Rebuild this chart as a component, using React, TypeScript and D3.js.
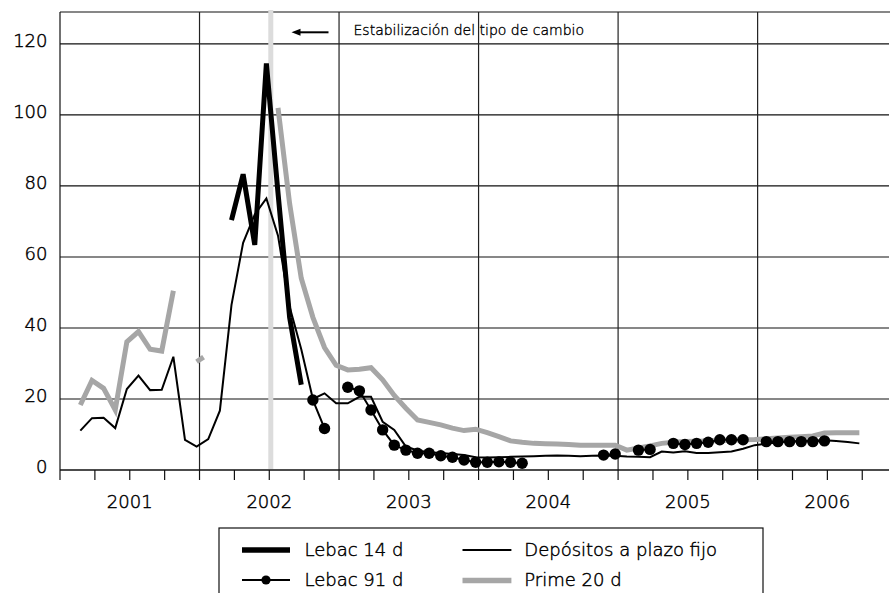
import React from "react";
import * as d3 from "d3";

// Month index: 0 = July 2000 (left edge of plot)
const YEAR_LABELS = ["2001", "2002", "2003", "2004", "2005", "2006"];
const YEAR_MONTHS = [6, 18, 30, 42, 54, 66];
const GRID_MONTHS = [12, 24, 36, 48, 60];
const Y_TICKS = [0, 20, 40, 60, 80, 100, 120];

// Depósitos a plazo fijo, monthly from month 2 (Sep 2000)
const depositosStart = 2;
const depositos = [
  11.1, 14.6, 14.7, 11.8, 22.8, 26.6, 22.5, 22.6, 31.9, 8.5,
  6.6, 8.7, 16.7, 46.5, 64, 72, 76.5, 66, 46, 34,
  20, 21.6, 18.8, 18.8, 20.6, 20.6, 13.6, 11.3, 6.6, 5.5,
  5.0, 4.8, 4.5, 4.2, 3.6, 3.5, 3.6, 3.7, 3.8, 3.9,
  4.0, 4.1, 4.0, 3.9, 4.0, 4.1, 4.0, 3.8, 3.7, 3.6,
  5.2, 4.9, 5.3, 4.8, 4.8, 5.0, 5.2, 6.0, 7.0, 7.4,
  7.8, 8.0, 8.2, 8.3, 8.4, 8.2, 7.9, 7.5,
];

// Lebac 14 d, monthly from month 15 (Oct 2001)
const lebac14Start = 15;
const lebac14 = [70.4, 83.3, 63.4, 114.5, 78, 43, 24];

// Lebac 91 d, monthly from month 22 (May 2002); null = no data
const lebac91Start = 22;
const lebac91: (number | null)[] = [
  19.7, 11.7, null, 23.3, 22.3, 16.9, 11.3, 7.0, 5.6, 4.7,
  4.7, 4.0, 3.6, 2.8, 2.2, 2.2, 2.3, 2.2, 1.9, null,
  null, null, null, null, null, 4.2, 4.5, null, 5.6, 5.8,
  null, 7.5, 7.2, 7.5, 7.8, 8.5, 8.5, 8.5, null, 8.0,
  8.0, 8.0, 8.0, 8.0, 8.2,
];

// Prime 20 d
const primeA = [18.3, 25.2, 23, 16.9, 36.1, 39, 34, 33.5, 50.5];
const primeAStart = 2;
const primeBMonths = [12, 12.6];
const primeB = [30.5, 31.8];
const primeCStart = 19;
const primeC = [
  102, 75, 54, 43, 34.5, 29.5, 28.2, 28.4, 28.8, 25.4,
  21, 17.4, 14.1, 13.4, 12.7, 11.8, 11.1, 11.5, 10.5, 9.4,
  8.2, 7.8, 7.5, 7.4, 7.3, 7.2, 7.0, 7.0, 7.0, 7.0,
  5.6, 6.2, 6.8, 7.5, 7.8, 8.0, 8.1, 8.2, 8.3, 8.4,
  8.5, 8.6, 8.8, 9.0, 9.2, 9.4, 9.6, 10.4, 10.5, 10.5, 10.5,
];

const EVENT_MONTH = 18.13;
const EVENT_LABEL = "Estabilización del tipo de cambio";

type Pt = { m: number; v: number | null };
const seq = (start: number, vals: (number | null)[]): Pt[] =>
  vals.map((v, i) => ({ m: start + i, v }));

const FONT = "'DejaVu Sans', sans-serif";
const POINT_SHIFT = -0.25;

export default function App() {
  const W = 890;
  const H = 593;
  const x = d3.scaleLinear().domain([0, 71.3]).range([60, 889]);
  const y = d3.scaleLinear().domain([0, 129]).range([470, 12]);

  const line = d3
    .line<Pt>()
    .defined((d) => d.v !== null)
    .x((d) => x(d.m + POINT_SHIFT))
    .y((d) => y(d.v as number));

  const dep = seq(depositosStart, depositos);
  const l14 = seq(lebac14Start, lebac14);
  const l91 = seq(lebac91Start, lebac91);
  const pA = seq(primeAStart, primeA);
  const pB = primeBMonths.map((m, i) => ({ m, v: primeB[i] }));
  const pC = seq(primeCStart, primeC);

  const tickMonths = d3.range(0, 72, 3);
  const x0 = x(0);
  const x1 = x(71.3);
  const txt = { fill: "#000", stroke: "#000", strokeWidth: 0.45 };
  const txtSmall = { fill: "#000", stroke: "#000", strokeWidth: 0.35 };

  return (
    <svg
      width={W}
      height={H}
      style={{ position: "absolute", left: 0, top: 0, background: "#fff" }}
      fontFamily={FONT}
      fontWeight={300}
    >
      <rect x={0} y={0} width={W} height={H} fill="#fff" />
      {/* horizontal grid */}
      {Y_TICKS.filter((t) => t > 0).map((t) => (
        <line key={t} x1={x0} x2={x1} y1={y(t)} y2={y(t)} stroke="#111" strokeWidth={1.2} />
      ))}
      <line x1={x0} x2={x1 + 1} y1={12} y2={12} stroke="#111" strokeWidth={1.2} />
      {/* vertical grid */}
      {GRID_MONTHS.map((m) => (
        <line key={m} x1={x(m)} x2={x(m)} y1={12} y2={y(0)} stroke="#222" strokeWidth={1.2} />
      ))}
      <line x1={x0} x2={x0} y1={12} y2={y(0)} stroke="#111" strokeWidth={1.2} />

      {/* event line */}
      <line
        x1={x(EVENT_MONTH)}
        x2={x(EVENT_MONTH)}
        y1={10}
        y2={y(0) - 1}
        stroke="#dcdcdc"
        strokeWidth={5}
      />

      {/* axis */}
      <line x1={x0} x2={x1} y1={y(0)} y2={y(0)} stroke="#111" strokeWidth={1.3} />
      {tickMonths.map((m) => (
        <line key={m} x1={x(m)} x2={x(m)} y1={y(0)} y2={y(0) + 10} stroke="#111" strokeWidth={1.2} />
      ))}
      {Y_TICKS.map((t) => (
        <text key={t} x={47.5} y={y(t) + 3} textAnchor="end" fontSize={18} {...txt}>
          {t}
        </text>
      ))}
      {YEAR_LABELS.map((lab, i) => (
        <text key={lab} x={x(YEAR_MONTHS[i])} y={507.5} textAnchor="middle" fontSize={18} {...txt}>
          {lab}
        </text>
      ))}

      {/* series */}
      {[pA, pB, pC].map((s, i) => (
        <path key={i} d={line(s) || ""} fill="none" stroke="#a6a6a6" strokeWidth={5} strokeLinejoin="miter" />
      ))}
      <path d={line(dep) || ""} fill="none" stroke="#000" strokeWidth={2} />
      <path d={line(l14) || ""} fill="none" stroke="#000" strokeWidth={5} strokeLinejoin="miter" />
      <path d={line(l91) || ""} fill="none" stroke="#000" strokeWidth={2} />
      {l91
        .filter((d) => d.v !== null)
        .map((d) => (
          <circle key={d.m} cx={x(d.m + POINT_SHIFT)} cy={y(d.v as number)} r={5.7} fill="#000" />
        ))}

      {/* annotation */}
      <line x1={300} x2={328.5} y1={32.3} y2={32.3} stroke="#000" strokeWidth={2} />
      <path d="M291.5,32.3 L300.5,28.8 L300.5,35.8 Z" fill="#000" />
      <text x={353.5} y={35} fontSize={14} {...txtSmall}>
        {EVENT_LABEL}
      </text>

      {/* legend */}
      <rect x={219} y={528} width={544} height={80} fill="#fff" stroke="#111" strokeWidth={1.2} />
      <line x1={242} x2={290} y1={550} y2={550} stroke="#000" strokeWidth={5.4} />
      <text x={304.5} y={556.3} fontSize={18} {...txt}>Lebac 14 d</text>
      <line x1={242} x2={290} y1={580} y2={580} stroke="#000" strokeWidth={2} />
      <circle cx={266} cy={580} r={4.6} fill="#000" />
      <text x={304.5} y={586.3} fontSize={18} {...txt}>Lebac 91 d</text>
      <line x1={462.5} x2={511.4} y1={550} y2={550} stroke="#000" strokeWidth={2} />
      <text x={524.3} y={556.3} fontSize={18} {...txt}>Depósitos a plazo fijo</text>
      <line x1={462.5} x2={511.4} y1={580.5} y2={580.5} stroke="#a6a6a6" strokeWidth={5.4} />
      <text x={524.3} y={586.3} fontSize={18} {...txt}>Prime 20 d</text>
    </svg>
  );
}
